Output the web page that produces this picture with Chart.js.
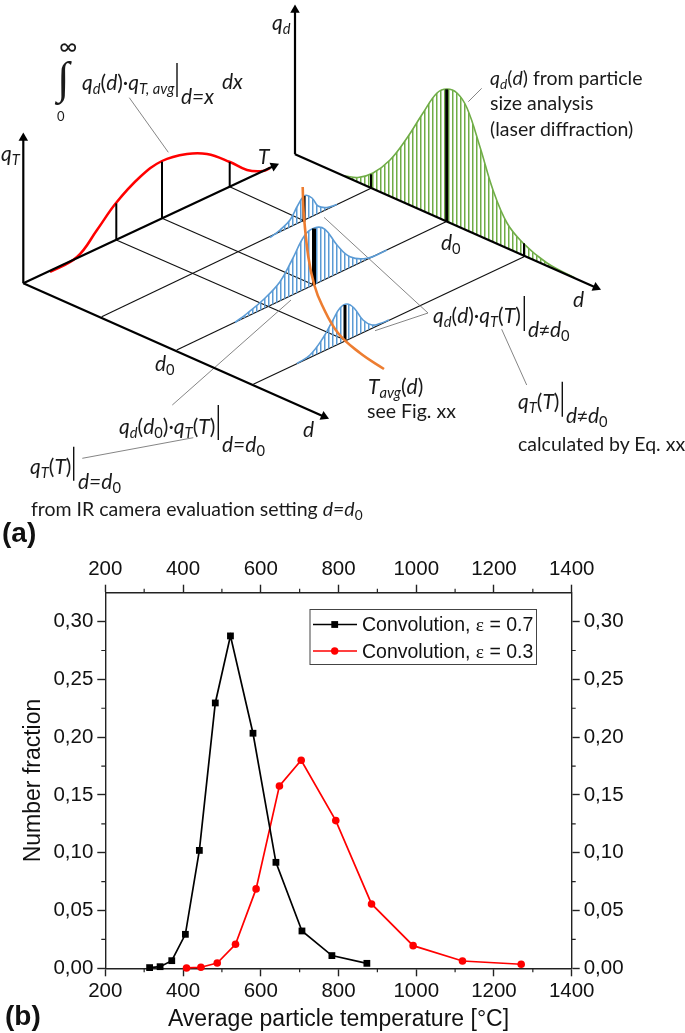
<!DOCTYPE html>
<html>
<head>
<meta charset="utf-8">
<title>Convolution of particle size and temperature</title>
<script src="https://cdn.jsdelivr.net/npm/chart.js@4"></script>
<style>
  html, body { margin: 0; padding: 0; background: #fff; }
  #page { position: relative; width: 685px; height: 1033px; overflow: hidden; }
  canvas { position: absolute; left: 0; display: block; }
  #schema { top: 0; }
  #plot { top: 560px; }
  .t { position: absolute; white-space: nowrap; transform: translateY(-50%); font-family: Lato, sans-serif; font-size: 19.5px; color: #1a1a1a; }
  .t.m { font-size: 21px; }
  .t i { font-style: italic; }
  .t sub { font-size: 70%; vertical-align: -0.3em; line-height: 0; }
  .t em { font-family: "Open Sans", sans-serif; font-style: normal; font-size: 90%; }
  .panel { font-family: "Liberation Sans", sans-serif; font-weight: bold; font-size: 28px; color: #111; }
  .leg { font-family: "Liberation Sans", sans-serif; font-size: 19.5px; color: #111; }
  .leg span { font-family: "Liberation Serif", serif; }
</style>
</head>
<body>
<div id="page">
  <canvas id="schema" width="685" height="560"></canvas>
  <canvas id="plot" width="685" height="473"></canvas>

  <div class="t" style="left:59px;top:45px;font-size:25px">∞</div>
  <div class="t" style="left:57px;top:78px;font-size:45px;font-family:'Liberation Serif'">∫</div>
  <div class="t" style="left:57px;top:116px;font-size:13px">0</div>
  <div class="t m" style="left:82px;top:81px"><i>q<sub>d</sub></i>(<i>d</i>)·<i>q<sub>T, avg</sub></i></div>
  <div class="t m" style="left:181px;top:95px"><i>d=x</i></div>
  <div class="t m" style="left:222px;top:80px"><i>dx</i></div>
  <div class="t m" style="left:1px;top:152px"><i>q<sub>T</sub></i></div>
  <div class="t m" style="left:272px;top:21px"><i>q<sub>d</sub></i></div>
  <div class="t m" style="left:258px;top:155px"><i>T</i></div>
  <div class="t" style="left:490px;top:77px"><i>q<sub>d</sub></i>(<i>d</i>) from particle</div>
  <div class="t" style="left:490px;top:102px">size analysis</div>
  <div class="t" style="left:490px;top:128px">(laser diffraction)</div>
  <div class="t m" style="left:441px;top:241px"><i>d</i><sub>0</sub></div>
  <div class="t m" style="left:573px;top:298px"><i>d</i></div>
  <div class="t m" style="left:155px;top:362px"><i>d</i><sub>0</sub></div>
  <div class="t m" style="left:303px;top:428px"><i>d</i></div>
  <div class="t m" style="left:119px;top:425px"><i>q<sub>d</sub></i>(<i>d</i><sub>0</sub>)·<i>q<sub>T</sub></i>(<i>T</i>)</div>
  <div class="t m" style="left:222px;top:443px"><i>d=d</i><sub>0</sub></div>
  <div class="t m" style="left:30px;top:465px"><i>q<sub>T</sub></i>(<i>T</i>)</div>
  <div class="t m" style="left:78px;top:480px"><i>d=d</i><sub>0</sub></div>
  <div class="t" style="left:31px;top:508px">from IR camera evaluation setting <i>d=d</i><sub>0</sub></div>
  <div class="t m" style="left:368px;top:385px"><i>T<sub>avg</sub></i>(<i>d</i>)</div>
  <div class="t" style="left:367px;top:410px">see Fig. xx</div>
  <div class="t m" style="left:433px;top:314px"><i>q<sub>d</sub></i>(<i>d</i>)·<i>q<sub>T</sub></i>(<i>T</i>)</div>
  <div class="t m" style="left:528px;top:329px"><i>d</i><em>≠</em><i>d</i><sub>0</sub></div>
  <div class="t m" style="left:518px;top:400px"><i>q<sub>T</sub></i>(<i>T</i>)</div>
  <div class="t m" style="left:566px;top:415px"><i>d</i><em>≠</em><i>d</i><sub>0</sub></div>
  <div class="t" style="left:518px;top:443px">calculated by Eq. xx</div>
  <div class="t panel" style="left:2px;top:533px">(a)</div>
  <div class="t panel" style="left:5px;top:1016px">(b)</div>

  <div class="t leg" style="left:362px;top:624px">Convolution, <span>ε</span> = 0.7</div>
  <div class="t leg" style="left:362px;top:651px">Convolution, <span>ε</span> = 0.3</div>
</div>

<script>
// panel (b) values
const xTickValues = [200, 400, 600, 800, 1000, 1200, 1400];
const xMinorValues = [300, 500, 700, 900, 1100, 1300];
const yTickValues = [0, 0.05, 0.10, 0.15, 0.20, 0.25, 0.30];
const yMinorValues = [0.025, 0.075, 0.125, 0.175, 0.225, 0.275];

const tempEps07 = [314, 341, 371, 406, 442, 483, 522, 580, 639, 706, 783, 873];
const fracEps07 = [0.0006, 0.0014, 0.0066, 0.0294, 0.102, 0.2296, 0.2876, 0.2034, 0.0917, 0.0323, 0.011, 0.0043];
const tempEps03 = [409, 446, 488, 535, 588, 648, 704, 793, 885, 992, 1119, 1270];
const fracEps03 = [0.0003, 0.0009, 0.0046, 0.0208, 0.0687, 0.1578, 0.18, 0.1278, 0.0557, 0.0196, 0.0063, 0.0035];

// panel (a) schematic
const redCurve = [[50,272],[77,257],[97,230],[116,203],[140,177],[162,161],[187,154],[207,154],[230,162],[247,170],[263,171],[270,168]];
const greenCurve = [[345,176],[358,177.5],[373,173],[390,160],[407,138],[423,113],[437,93],[447,89],[457,93],[467,108],[480,147],[493,190],[507,223],[523,243],[547,263],[575,278]];
const blueTop = [[270,237.5],[280,230],[290,220],[298,205],[305,195.5],[312,198],[318,206],[327,207.5],[337,204.5]];
const blueMiddle = [[235,322.5],[247,313.5],[263,300],[280,281.7],[292,260],[305,235],[315,227.7],[325,229.3],[337,245],[350,256.7],[367,258.3],[387,250]];
const blueBottom = [[297,363.5],[310,355],[323,338],[333,320],[340,308],[347,304],[354,308],[363,320],[372,325],[380,323.5],[389,320]];
const orangeCurve = [[302.7,187],[303.7,213],[308.3,256.7],[314.3,285],[322,305],[338,333],[360,353],[384,369]];

const mainAxes = [
  [[23.3,283.3],[23.3,136]],
  [[23.3,283.3],[276,165]],
  [[23.3,283.3],[326,417.5]],
  [[295,154.3],[295,8]],
  [[295,154.3],[598,288.5]]
];
const arrowHeads = [
  [[23.3,138],0],
  [[274,166],65],
  [[324,416.5],114],
  [[295,10],0],
  [[596,287.5],114]
];
const gridLines = [
  [[116.3,240],[345,340]],
  [[162,218.3],[314,285]],
  [[229.7,186.7],[304,220.7]],
  [[101.7,316.7],[371,188.3]],
  [[176.7,350],[446,221.7]],
  [[253.3,384.3],[524,256.7]]
];
const thickStems = [
  [[116.3,240],[116.3,203.3],2],
  [[162,218.3],[162,161.7],2],
  [[229.7,186.7],[229.7,162],2],
  [[371,188.3],[371,174.3],2],
  [[446.7,221.7],[446.7,89.3],3],
  [[524,256.7],[524,243.3],2],
  [[304,221.7],[304,196],3],
  [[314,285],[314,228.5],4],
  [[345,340],[345,305],3]
];
const leaderLines = [
  [[129.3,97.7],[168.3,152.3]],
  [[468.3,101.7],[481.7,88.3]],
  [[324,217.3],[428,313]],
  [[428,313],[375,330.7]],
  [[291,300],[172.3,405]],
  [[193.3,437.7],[82.3,458.3]],
  [[501.7,329.3],[526.7,385]]
];
const evalBars = [
  [[177,63],[177,97]],
  [[218.3,405],[218.3,440]],
  [[73.7,446.7],[73.7,480.7]],
  [[524.3,296],[524.3,331]],
  [[562.3,381.7],[562.3,416.7]]
];

function stripes(color) {
  const c = document.createElement('canvas');
  c.width = 4;
  c.height = 4;
  const g = c.getContext('2d');
  g.fillStyle = color;
  g.fillRect(0, 0, 1.5, 4);
  return g.createPattern(c, 'repeat');
}

function line(points, color, width, extra) {
  return Object.assign({
    data: points,
    showLine: true,
    borderColor: color,
    borderWidth: width,
    pointRadius: 0,
    tension: 0,
    fill: false
  }, extra);
}

function curve(points, color, width) {
  return line(points, color, width, { tension: 0.4 });
}

function hatched(points, color) {
  return line(points, color, 1.6, { tension: 0.4, fill: 'shape', backgroundColor: stripes(color) });
}

const schemaSets = [
  ...gridLines.map(s => line(s, '#111', 1.2)),
  ...leaderLines.map(s => line(s, '#777', 0.9)),
  hatched(greenCurve, '#70ad47'),
  hatched(blueTop, '#5b9bd5'),
  hatched(blueMiddle, '#5b9bd5'),
  hatched(blueBottom, '#5b9bd5'),
  curve(redCurve, '#ff0000', 2.5),
  ...mainAxes.map(s => line(s, '#000', 2.2)),
  ...thickStems.map(s => line([s[0], s[1]], '#000', s[2])),
  curve(orangeCurve, '#ed7d31', 2.6),
  ...evalBars.map(s => line(s, '#111', 1.4)),
  ...arrowHeads.map(a => line([a[0]], '#000', 0, {
    showLine: false, pointRadius: 5.5, pointStyle: 'triangle', rotation: a[1],
    pointBackgroundColor: '#000', pointBorderWidth: 0
  }))
];
// later entries go on top
schemaSets.forEach((d, i) => { d.order = -i; });

new Chart(document.getElementById('schema'), {
  type: 'scatter',
  data: { datasets: schemaSets },
  options: {
    responsive: false,
    animation: false,
    events: [],
    layout: { padding: 0, autoPadding: false },
    plugins: { legend: { display: false }, tooltip: { enabled: false } },
    scales: {
      x: { type: 'linear', min: 0, max: 685, display: false },
      y: { type: 'linear', min: 0, max: 560, reverse: true, display: false }
    }
  }
});

// panel (b)
const axisFont = { family: '"Liberation Sans", sans-serif', size: 20.5 };
const inkColor = '#222';

function tickOptions(pad) {
  return { color: '#111', font: axisFont, padding: pad, autoSkip: false, maxRotation: 0 };
}

function gridOptions() {
  return { drawOnChartArea: false, drawTicks: true, tickLength: 8, tickColor: inkColor, tickWidth: 1.4 };
}

function xAxis(position, size, titleText) {
  return {
    type: 'linear',
    position: position,
    min: 200,
    max: 1400,
    afterBuildTicks: s => { s.ticks = xTickValues.map(v => ({ value: v })); },
    afterFit: s => { s.height = size; },
    ticks: Object.assign(tickOptions(3), { callback: v => String(v) }),
    grid: gridOptions(),
    border: { display: true, color: inkColor, width: 1.4 },
    title: titleText
      ? { display: true, text: titleText, color: '#111', font: { family: axisFont.family, size: 23 }, padding: 0 }
      : { display: false }
  };
}

function yAxis(position, size, titleText) {
  return {
    type: 'linear',
    position: position,
    min: 0,
    max: 0.325,
    afterBuildTicks: s => { s.ticks = yTickValues.map(v => ({ value: v })); },
    afterFit: s => { s.width = size; },
    ticks: Object.assign(tickOptions(4), { callback: v => v.toFixed(2).replace('.', ',') }),
    grid: gridOptions(),
    border: { display: true, color: inkColor, width: 1.4 },
    title: titleText
      ? { display: true, text: titleText, color: '#111', font: { family: axisFont.family, size: 23 }, padding: { top: 20, bottom: 0 } }
      : { display: false }
  };
}

const minorTicks = {
  id: 'minorTicks',
  afterDraw(chart) {
    const g = chart.ctx;
    const { left, right, top, bottom } = chart.chartArea;
    const len = 4;
    g.save();
    g.strokeStyle = inkColor;
    g.lineWidth = 1.2;
    g.beginPath();
    xMinorValues.forEach(v => {
      const px = chart.scales.x.getPixelForValue(v);
      g.moveTo(px, bottom);
      g.lineTo(px, bottom + len);
      g.moveTo(px, top);
      g.lineTo(px, top - len);
    });
    yMinorValues.forEach(v => {
      const py = chart.scales.y.getPixelForValue(v);
      g.moveTo(left, py);
      g.lineTo(left - len, py);
      g.moveTo(right, py);
      g.lineTo(right + len, py);
    });
    g.stroke();
    g.restore();
  }
};

// legend frame and samples, the words are in the page above
const legendBox = {
  id: 'legendBox',
  afterDraw(chart) {
    const g = chart.ctx;
    g.save();
    g.strokeStyle = '#444';
    g.lineWidth = 1;
    g.fillStyle = '#fff';
    g.fillRect(310, 49.5, 226.5, 55);
    g.strokeRect(310, 49.5, 226.5, 55);
    const black = chart.data.datasets[0];
    const red = chart.data.datasets[1];
    g.lineWidth = 1.7;
    g.strokeStyle = black.borderColor;
    g.beginPath(); g.moveTo(313, 64.5); g.lineTo(357, 64.5); g.stroke();
    g.fillStyle = black.pointBackgroundColor;
    g.fillRect(331.3, 61.1, 6.8, 6.8);
    g.strokeStyle = red.borderColor;
    g.beginPath(); g.moveTo(313, 91); g.lineTo(357, 91); g.stroke();
    g.fillStyle = red.pointBackgroundColor;
    g.beginPath(); g.arc(334.7, 91, 3.7, 0, Math.PI * 2); g.fill();
    g.restore();
  }
};

new Chart(document.getElementById('plot'), {
  type: 'line',
  data: {
    datasets: [
      {
        label: 'Convolution, ε = 0.7',
        data: tempEps07.map((t, i) => ({ x: t, y: fracEps07[i] })),
        borderColor: '#000',
        borderWidth: 1.7,
        pointStyle: 'rect',
        pointRadius: 4.8,
        pointBackgroundColor: '#000',
        pointBorderWidth: 0,
        clip: false
      },
      {
        label: 'Convolution, ε = 0.3',
        data: tempEps03.map((t, i) => ({ x: t, y: fracEps03[i] })),
        borderColor: '#ff0000',
        borderWidth: 1.7,
        pointStyle: 'circle',
        pointRadius: 3.8,
        pointBackgroundColor: '#ff0000',
        pointBorderWidth: 0,
        clip: false
      }
    ]
  },
  options: {
    responsive: false,
    animation: false,
    events: [],
    layout: { padding: 0 },
    plugins: { legend: { display: false }, tooltip: { enabled: false } },
    scales: {
      x: xAxis('bottom', 64.7, 'Average particle temperature [°C]'),
      xTop: xAxis('top', 32.7),
      y: yAxis('left', 105.3, 'Number fraction'),
      yRight: yAxis('right', 113.3)
    }
  },
  plugins: [minorTicks, legendBox]
});
</script>
</body>
</html>
